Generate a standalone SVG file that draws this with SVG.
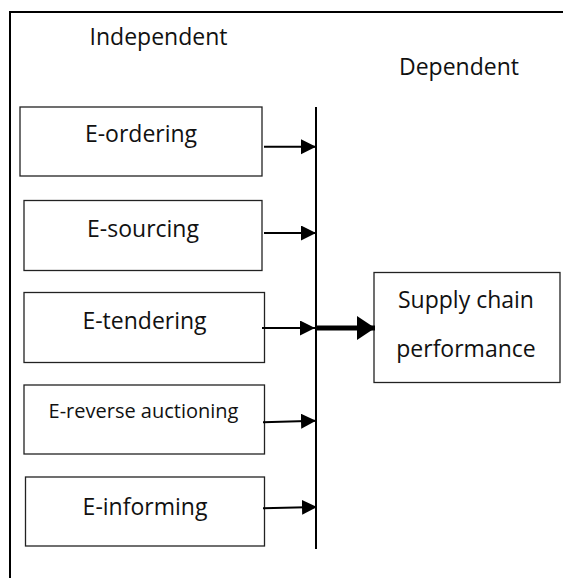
<svg xmlns="http://www.w3.org/2000/svg" width="563" height="578" viewBox="0 0 563 578">
<style>
  .box { fill: #ffffff; stroke: #222; stroke-width: 1.3; }
  .t { font-family: "Open Sans", "Liberation Sans", sans-serif; font-size: 23px; fill: #111; text-anchor: middle; }
  .thin { stroke: #000; stroke-width: 2; fill: none; }
</style>
<defs>
  <marker id="ah" markerUnits="userSpaceOnUse" markerWidth="16" markerHeight="16" refX="15" refY="7.5" orient="auto">
    <polygon points="0,0 15,7.5 0,15" fill="#000"/>
  </marker>
  <marker id="ahb" markerUnits="userSpaceOnUse" markerWidth="20" markerHeight="26" refX="18" refY="12" orient="auto">
    <polygon points="0,0 18,12 0,24" fill="#000"/>
  </marker>
</defs>
<rect width="563" height="578" fill="#fff"/>
<path d="M10,590 V12 H575" fill="none" stroke="#000" stroke-width="2"/>
<text class="t" x="158.5" y="45">Independent</text>
<text class="t" x="459" y="75">Dependent</text>

<g id="n-ordering">
  <rect class="box" x="20" y="107" width="242" height="69"/>
  <text class="t" x="141" y="141.5">E-ordering</text>
</g>
<g id="n-sourcing">
  <rect class="box" x="24" y="200.5" width="238" height="70"/>
  <text class="t" x="143" y="237">E-sourcing</text>
</g>
<g id="n-tendering">
  <rect class="box" x="24" y="292.5" width="240.5" height="70"/>
  <text class="t" x="144.5" y="329">E-tendering</text>
</g>
<g id="n-reverse">
  <rect class="box" x="24" y="385" width="240.5" height="69"/>
  <text class="t" x="143.5" y="418" style="font-size:20px">E-reverse auctioning</text>
</g>
<g id="n-informing">
  <rect class="box" x="25.5" y="477" width="239" height="69"/>
  <text class="t" x="145" y="515">E-informing</text>
</g>
<g id="n-scp">
  <rect class="box" x="374" y="272.5" width="186" height="110"/>
  <text class="t" x="466" y="308">Supply chain</text>
  <text class="t" x="466" y="356.5">performance</text>
</g>

<g id="connectors">
  <line class="thin" x1="316" y1="107" x2="316" y2="549"/>
  <line class="thin" x1="264" y1="146.7" x2="316" y2="146.7" marker-end="url(#ah)"/>
  <line class="thin" x1="264" y1="233" x2="316" y2="233" marker-end="url(#ah)"/>
  <line class="thin" x1="262" y1="328" x2="315" y2="328" marker-end="url(#ah)"/>
  <line class="thin" x1="263" y1="422.3" x2="316" y2="420.7" marker-end="url(#ah)"/>
  <line class="thin" x1="263" y1="508.3" x2="317" y2="507" marker-end="url(#ah)"/>
  <line x1="316" y1="328" x2="375" y2="328" stroke="#000" stroke-width="5" marker-end="url(#ahb)"/>
</g>
</svg>
